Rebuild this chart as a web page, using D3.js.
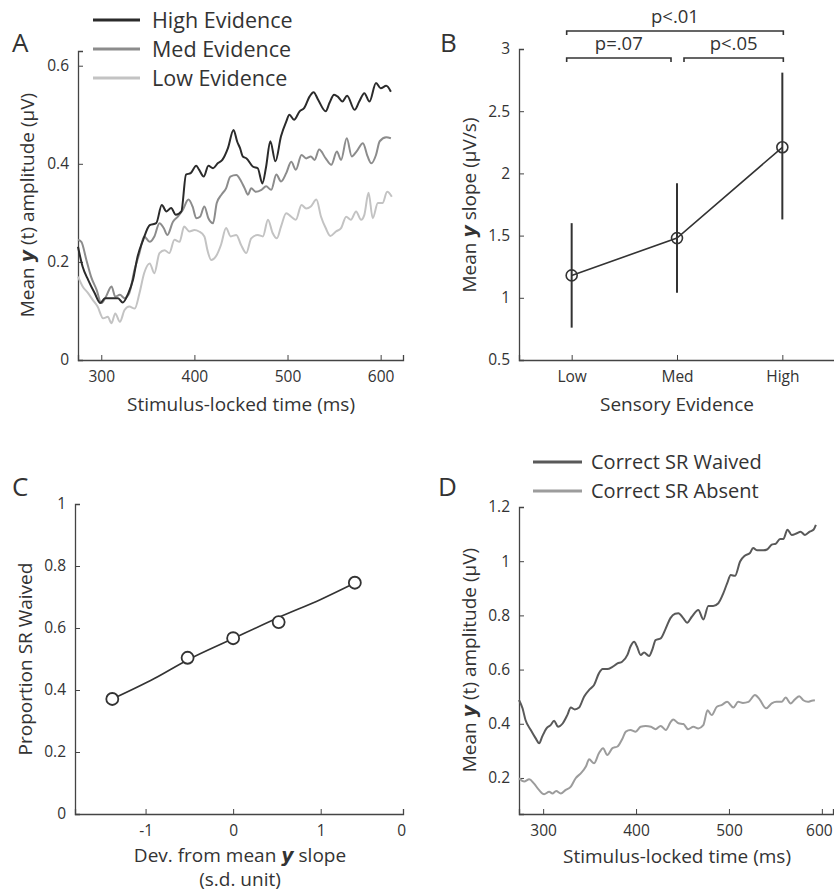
<!DOCTYPE html>
<html>
<head>
<meta charset="utf-8">
<script src="https://cdn.jsdelivr.net/npm/d3@7"></script>
<style>
  body { margin: 0; background: #fff; }
  svg text { font-family: "Open Sans", "DejaVu Sans", sans-serif; fill: #333; }
</style>
</head>
<body>
<div id="fig"></div>
<script>
// ---- data ----
// panel A: mean y(t) by evidence level, [time ms, amplitude µV]
const highEvidence = [[275,.231],[280,.19],[286,.163],[293,.136],[299,.116],[304,.126],[311,.126],[318,.126],[323,.117],[329,.136],[334,.163],[339,.211],[345,.245],[352,.275],[359,.279],[365,.316],[370,.303],[375,.31],[380,.296],[386,.303],[391,.378],[396,.381],[402,.396],[405,.388],[410,.374],[415,.396],[420,.391],[425,.401],[430,.408],[436,.432],[442,.469],[446,.445],[449,.432],[452,.415],[456,.411],[463,.394],[468,.391],[473,.36],[477,.394],[481.5,.446],[487,.405],[493,.456],[498.6,.486],[502,.5],[507,.49],[513,.507],[518,.514],[523.6,.537],[528,.546],[533,.53],[541,.507],[545,.524],[550,.541],[554,.537],[559,.527],[564,.539],[572,.51],[577,.527],[582.5,.544],[588,.527],[595,.565],[600,.554],[606,.559],[611,.547]];
const medEvidence = [[275,.245],[278.6,.241],[284,.204],[289,.17],[295,.143],[300,.116],[305,.129],[311,.15],[315,.129],[320,.133],[325,.126],[330,.136],[335.7,.184],[341,.218],[346,.252],[352,.241],[357,.252],[362.5,.279],[367,.269],[371,.255],[377,.282],[382,.292],[387.5,.306],[393.6,.327],[398,.313],[402,.289],[406,.292],[410.7,.313],[415,.289],[420,.279],[424,.32],[429,.337],[434,.35],[438.6,.374],[445,.377],[450,.365],[454,.35],[457.5,.337],[461,.35],[466,.343],[472,.347],[477,.354],[482.5,.347],[488,.378],[493,.364],[498.6,.381],[504,.404],[509,.388],[515,.418],[520,.411],[525,.415],[529,.408],[534,.429],[541,.411],[547,.398],[553,.425],[557.5,.408],[563.6,.452],[569,.415],[574,.425],[581,.442],[586,.415],[590,.401],[595,.418],[599,.446],[606,.454],[611,.452]];
const lowEvidence = [[275,.17],[280,.15],[286,.136],[291,.122],[296,.109],[302,.085],[307,.088],[311,.075],[315,.095],[320,.078],[325,.102],[330,.109],[336,.105],[341,.136],[346,.177],[352,.197],[357,.177],[362.5,.218],[368,.224],[373,.218],[378.6,.245],[384,.241],[389,.272],[394.6,.262],[400,.265],[405,.262],[410.7,.252],[414,.224],[418,.204],[423,.211],[428.6,.235],[434,.269],[439,.252],[445,.255],[450,.235],[455.7,.218],[461,.248],[468,.255],[473.6,.252],[479,.286],[484,.259],[488.6,.248],[493,.272],[498.6,.299],[504,.292],[509,.286],[515,.316],[520,.309],[525,.313],[531,.327],[536,.292],[541,.269],[546,.253],[552,.262],[557.5,.269],[563,.292],[568,.286],[573.6,.303],[579,.286],[582.5,.296],[587,.341],[591.5,.289],[597,.32],[602,.32],[607,.343],[612,.333]];
const seriesA = ["High Evidence", "Med Evidence", "Low Evidence"];

// panel B: mean slope by sensory evidence
const evidenceLevels = ["Low", "Med", "High"];
const slopeMean = [1.18, 1.48, 2.21];
const slopeLow = [0.76, 1.04, 1.63];
const slopeHigh = [1.60, 1.92, 2.81];
// comparisons: [from index, to index, label, level]
const comparisons = [[0, 1, "p=.07", 0], [1, 2, "p<.05", 0], [0, 2, "p<.01", 1]];

// panel C: proportion SR waived vs slope deviation
const devX = [-1.38, -0.52, 0, 0.52, 1.39];
const propWaived = [0.371, 0.504, 0.567, 0.619, 0.746];
const fitX = [-1.38, -0.9, -0.52, 0, 0.52, 1.0, 1.39];
const fitY = [0.371, 0.437, 0.497, 0.566, 0.634, 0.692, 0.745];
const cTicks = [-1, 0, 1, 1.92];
const cTickLabels = ["-1", "0", "1", "0"];

// panel D: mean y(t) correct SR waived / absent
const srWaived = [[274,.488],[277.8,.457],[281,.414],[286.7,.377],[292,.346],[295.7,.328],[299,.353],[303.6,.383],[308,.395],[311.8,.411],[316,.389],[321,.401],[326,.432],[329.8,.46],[334,.453],[338.7,.46],[344,.5],[350,.527],[354.8,.543],[360,.586],[364,.602],[369,.602],[374.6,.61],[380,.623],[385,.629],[390.7,.654],[394,.685],[398,.703],[401,.685],[405,.654],[408.6,.663],[414,.65],[417.6,.675],[421,.709],[426.5,.715],[432,.752],[437,.79],[442,.806],[445.6,.808],[451,.789],[455,.773],[460,.795],[467,.82],[472.4,.785],[477.8,.835],[483,.835],[488.6,.845],[494,.882],[498,.918],[502,.949],[506.5,.946],[512,.999],[517,1.02],[522.6,1.03],[526,1.049],[530.5,1.04],[537,1.04],[541,1.043],[546,1.061],[550.6,1.065],[555,1.082],[558.5,1.082],[563,1.116],[567.5,1.097],[573,1.103],[577,1.109],[581.8,1.097],[587,1.109],[591,1.116],[593.6,1.134]];
const srAbsent = [[274,.199],[279.6,.187],[285,.195],[290,.18],[295.7,.155],[301,.14],[306.5,.149],[310,.143],[314,.152],[319,.143],[324,.155],[329.8,.168],[335,.199],[340.5,.217],[346,.242],[349.5,.269],[354.8,.254],[360,.291],[364.5,.31],[369,.285],[374.6,.31],[380,.316],[385,.343],[389,.371],[394,.377],[399.6,.371],[405,.389],[410.4,.392],[416,.389],[421,.38],[426.5,.392],[432,.377],[437,.405],[440,.416],[445.6,.402],[451,.399],[456,.38],[461.7,.389],[467,.383],[472.4,.395],[477,.45],[481.4,.432],[487,.463],[492,.469],[498,.481],[504.7,.46],[510,.481],[515,.477],[521,.481],[528,.506],[533,.49],[540,.457],[546,.475],[551,.481],[556.7,.481],[561,.497],[566.4,.475],[571,.49],[575.7,.502],[580,.487],[585,.481],[589,.485],[592.5,.487]];
const seriesD = ["Correct SR Waived", "Correct SR Absent"];

// ---- drawing ----
const W = 834, H = 894;
const svg = d3.select("#fig").append("svg").attr("width", W).attr("height", H);

const axisColor = "#444";
const tickFont = "15.5px";
const labelFont = "19px";

function styleAxis(g) {
  g.select(".domain").attr("stroke", axisColor).attr("stroke-width", 1.3);
  g.selectAll(".tick line").attr("stroke", axisColor);
  g.selectAll(".tick text").style("font-size", tickFont).attr("fill", "#333");
}

function addLabel(t, parts) {
  parts.forEach(p => {
    const s = t.append("tspan").text(p[0]);
    if (p[1]) s.style("font-weight", "bold").style("font-style", "italic").style("font-family", "'DejaVu Sans', sans-serif");
  });
  return t;
}
function yLabel(x, y, parts) {
  return addLabel(svg.append("text")
    .attr("transform", `translate(${x},${y}) rotate(-90)`)
    .attr("text-anchor", "middle")
    .style("font-size", labelFont), parts);
}
function xLabel(x, y, parts) {
  return addLabel(svg.append("text")
    .attr("x", x).attr("y", y)
    .attr("text-anchor", "middle")
    .style("font-size", labelFont), parts);
}
function panelLetter(x, y, s) {
  svg.append("text").attr("x", x).attr("y", y).text(s)
    .style("font-size", "26px").attr("fill", "#222");
}

// ===== Panel A =====
const xA = d3.scaleLinear().domain([275, 624]).range([78, 403]);
const yA = d3.scaleLinear().domain([0, 0.63]).range([360, 51]);
const colorsA = ["#2b2b2b", "#8c8c8c", "#c3c3c3"];

svg.append("g").attr("transform", `translate(0,${yA(0)})`)
  .call(d3.axisBottom(xA).tickValues([300, 400, 500, 600]).tickSize(-5).tickPadding(11))
  .call(styleAxis);
svg.append("g").attr("transform", `translate(${xA(275)},0)`)
  .call(d3.axisLeft(yA).tickValues([0, 0.2, 0.4, 0.6]).tickFormat(d => d === 0 ? "0" : d3.format(".1f")(d)).tickSize(-5).tickPadding(9))
  .call(styleAxis);

const lineA = d3.line().x(d => xA(d[0])).y(d => yA(d[1])).curve(d3.curveMonotoneX);
[lowEvidence, medEvidence, highEvidence].forEach((s, i) => {
  svg.append("path").datum(s).attr("d", lineA)
    .attr("fill", "none").attr("stroke", colorsA[2 - i]).attr("stroke-width", 2);
});

const legA = svg.append("g");
seriesA.forEach((name, i) => {
  const yy = 20 + i * 29;
  legA.append("line").attr("x1", 93).attr("x2", 140).attr("y1", yy).attr("y2", yy)
    .attr("stroke", colorsA[i]).attr("stroke-width", 3);
  legA.append("text").attr("x", 152).attr("y", yy + 7.5).text(name).style("font-size", "21.5px");
});
panelLetter(12, 52, "A");
yLabel(34, 205, [["Mean "], ["y", true], [" (t) amplitude (μV)"]]);
xLabel(241, 411, [["Stimulus-locked time (ms)"]]);

// ===== Panel B =====
const xB = d3.scaleLinear().domain([0.5, 3.5]).range([519, 835]);
const yB = d3.scaleLinear().domain([0.5, 3]).range([360, 49]);

svg.append("g").attr("transform", `translate(0,${yB(0.5)})`)
  .call(d3.axisBottom(xB).tickValues([1, 2, 3]).tickFormat((d, i) => evidenceLevels[i]).tickSize(-5).tickPadding(11))
  .call(styleAxis);
svg.append("g").attr("transform", `translate(${xB(0.5)},0)`)
  .call(d3.axisLeft(yB).tickValues([0.5, 1, 1.5, 2, 2.5, 3]).tickFormat(d => String(d)).tickSize(-5).tickPadding(9))
  .call(styleAxis);

const ptsB = evidenceLevels.map((c, i) => ({ x: i + 1, m: slopeMean[i], lo: slopeLow[i], hi: slopeHigh[i] }));
svg.selectAll(".errB").data(ptsB).join("line")
  .attr("x1", d => xB(d.x)).attr("x2", d => xB(d.x))
  .attr("y1", d => yB(d.lo)).attr("y2", d => yB(d.hi))
  .attr("stroke", "#333").attr("stroke-width", 2);
svg.append("path").datum(ptsB)
  .attr("d", d3.line().x(d => xB(d.x)).y(d => yB(d.m)))
  .attr("fill", "none").attr("stroke", "#333").attr("stroke-width", 1.6);
svg.selectAll(".ptB").data(ptsB).join("circle")
  .attr("cx", d => xB(d.x)).attr("cy", d => yB(d.m)).attr("r", 5.5)
  .attr("fill", "none").attr("stroke", "#333").attr("stroke-width", 1.6);

// significance brackets
comparisons.forEach(([a, b, lab, lvl]) => {
  const yy = lvl ? 31 : 58;
  const x1 = xB(a + 1) - 5, x2 = xB(b + 1) + 1;
  const xa = lvl ? x1 : (a === 0 ? x1 : x1 + 12);
  const xb = lvl ? x2 : (b === 1 ? x2 - 7 : x2);
  svg.append("path")
    .attr("d", `M${xa},${yy + 4}V${yy}H${xb}V${yy + 4}`)
    .attr("fill", "none").attr("stroke", "#333").attr("stroke-width", 1.6);
  svg.append("text").attr("x", (xa + xb) / 2).attr("y", yy - 8)
    .attr("text-anchor", "middle").text(lab).style("font-size", "18.5px");
});
panelLetter(440, 52, "B");
yLabel(476, 205, [["Mean "], ["y", true], [" slope (μV/s)"]]);
xLabel(677, 411, [["Sensory Evidence"]]);

// ===== Panel C =====
const xC = d3.scaleLinear().domain([-1.806, 1.94]).range([75, 403]);
const yC = d3.scaleLinear().domain([0, 1]).range([814, 504]);

svg.append("g").attr("transform", `translate(0,${yC(0)})`)
  .call(d3.axisBottom(xC).tickValues(cTicks).tickFormat((d, i) => cTickLabels[i]).tickSize(-5).tickPadding(11))
  .call(styleAxis)
  .call(g => g.selectAll(".tick").filter((d, i) => i === 3).select("line").remove());
svg.append("g").attr("transform", `translate(${xC(-1.806)},0)`)
  .call(d3.axisLeft(yC).tickValues([0, 0.2, 0.4, 0.6, 0.8, 1]).tickFormat(d => (d === 0 || d === 1) ? String(d) : d3.format(".1f")(d)).tickSize(-5).tickPadding(9))
  .call(styleAxis);

svg.append("path").datum(fitX.map((x, i) => [x, fitY[i]]))
  .attr("d", d3.line().x(d => xC(d[0])).y(d => yC(d[1])).curve(d3.curveMonotoneX))
  .attr("fill", "none").attr("stroke", "#333").attr("stroke-width", 1.6);
svg.selectAll(".ptC").data(devX.map((x, i) => [x, propWaived[i]])).join("circle")
  .attr("cx", d => xC(d[0])).attr("cy", d => yC(d[1])).attr("r", 6)
  .attr("fill", "#fff").attr("stroke", "#333").attr("stroke-width", 1.8);
panelLetter(12, 496, "C");
yLabel(32, 659, [["Proportion SR Waived"]]);
xLabel(240, 862, [["Dev. from mean "], ["y", true], [" slope"]]);
xLabel(240, 886, [["(s.d. unit)"]]);

// ===== Panel D =====
const xD = d3.scaleLinear().domain([274, 612]).range([519, 833]);
const yD = d3.scaleLinear().domain([0.067, 1.2]).range([814, 507]);
const colorsD = ["#595959", "#9c9c9c"];

svg.append("g").attr("transform", `translate(0,${yD(0.067)})`)
  .call(d3.axisBottom(xD).tickValues([300, 400, 500, 600]).tickSize(-5).tickPadding(11))
  .call(styleAxis)
  .call(g => g.selectAll(".tick").filter(d => d === 600).select("text").attr("dx", "-3px"));
svg.append("g").attr("transform", `translate(${xD(274)},0)`)
  .call(d3.axisLeft(yD).tickValues([0.2, 0.4, 0.6, 0.8, 1, 1.2]).tickFormat(d => d === 1 ? "1" : d3.format(".1f")(d)).tickSize(-5).tickPadding(9))
  .call(styleAxis);

const lineD = d3.line().x(d => xD(d[0])).y(d => yD(d[1])).curve(d3.curveMonotoneX);
[srAbsent, srWaived].forEach((s, i) => {
  svg.append("path").datum(s).attr("d", lineD)
    .attr("fill", "none").attr("stroke", colorsD[1 - i]).attr("stroke-width", 2);
});
seriesD.forEach((name, i) => {
  const yy = 462 + i * 29;
  svg.append("line").attr("x1", 533).attr("x2", 582).attr("y1", yy).attr("y2", yy)
    .attr("stroke", colorsD[i]).attr("stroke-width", 3);
  svg.append("text").attr("x", 591).attr("y", yy + 7).text(name).style("font-size", "20px");
});
panelLetter(438, 496, "D");
yLabel(476, 660, [["Mean "], ["y", true], [" (t) amplitude (μV)"]]);
xLabel(677, 863, [["Stimulus-locked time (ms)"]]);
</script>
</body>
</html>
